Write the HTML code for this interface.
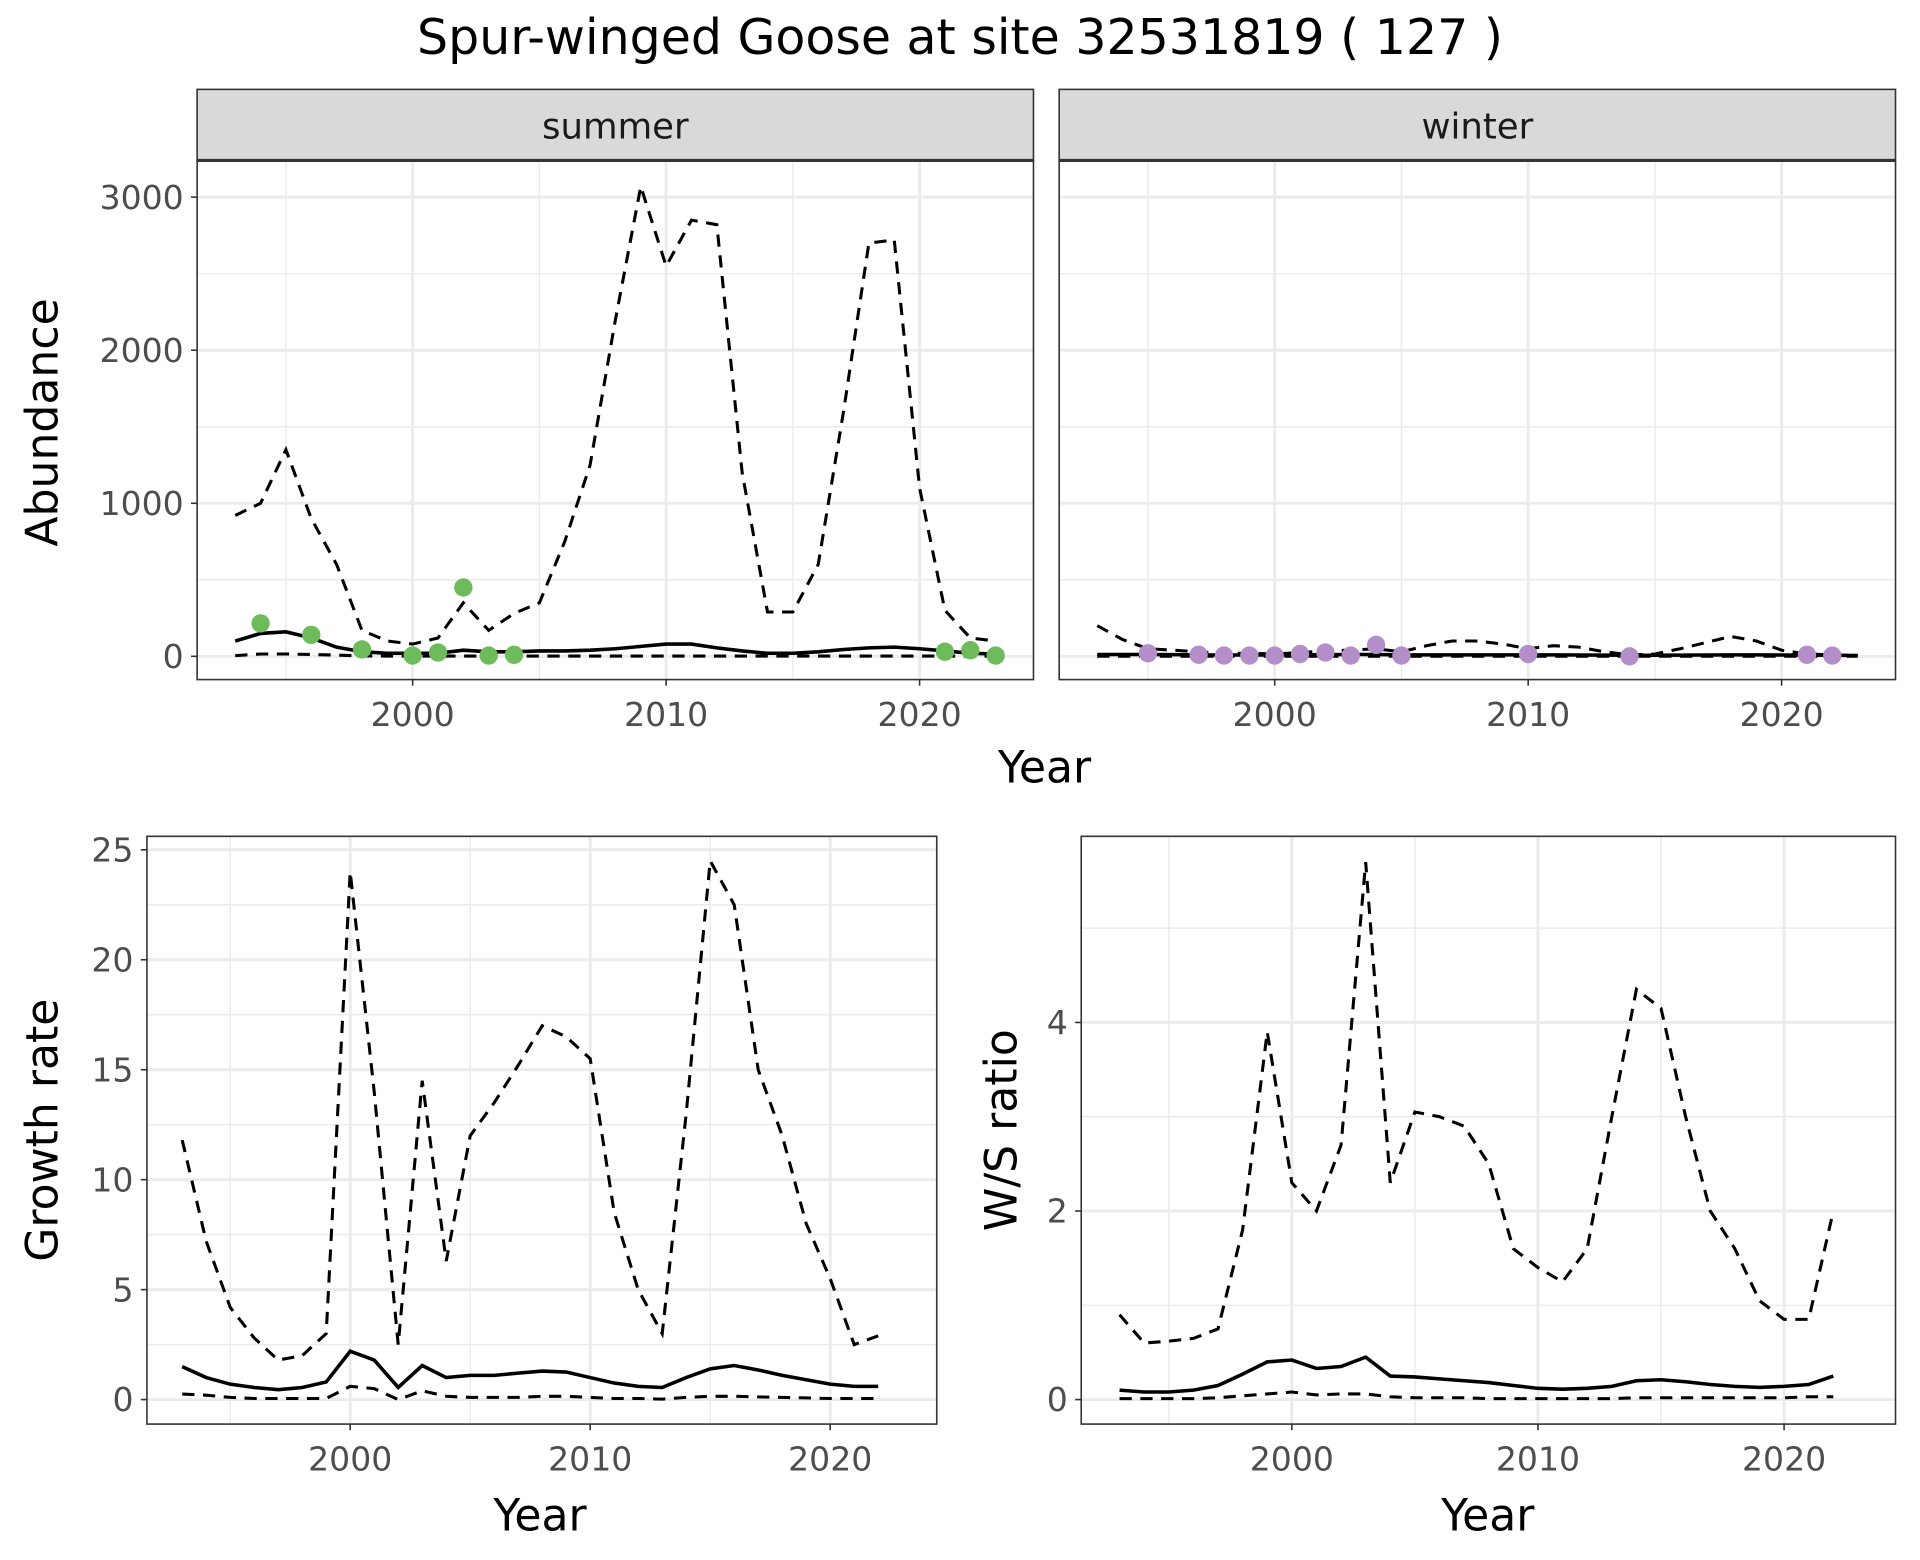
<!DOCTYPE html>
<html><head><meta charset="utf-8"><style>
html,body{margin:0;padding:0;background:#fff}
svg{display:block;font-family:"DejaVu Sans","Liberation Sans",sans-serif}
</style></head><body>
<svg id="chart" width="1920" height="1560" viewBox="0 0 1568 1274" preserveAspectRatio="none" xmlns="http://www.w3.org/2000/svg">
<text x="784" y="44" font-size="40" text-anchor="middle" fill="#000">Spur-winged Goose at site 32531819 ( 127 )</text>
<g id="g"></g>
</svg>
<script>
const yearsA = [1993,1994,1995,1996,1997,1998,1999,2000,2001,2002,2003,2004,2005,2006,2007,2008,2009,2010,2011,2012,2013,2014,2015,2016,2017,2018,2019,2020,2021,2022,2023];
const summerUpper = [920,1000,1350,900,600,170,100,80,120,350,170,280,350,750,1250,2200,3070,2550,2850,2820,1200,290,290,600,1600,2700,2720,1100,300,120,100];
const summerMean = [100,150,160,120,60,30,20,20,20,40,30,30,35,35,40,50,65,80,80,55,35,20,20,30,45,55,60,50,35,20,15];
const summerLower = [5,15,15,12,8,3,2,2,2,2,2,2,2,2,2,2,2,2,2,2,2,2,2,2,2,2,2,2,2,2,2];
const summerPtYears = [1994,1996,1998,2000,2001,2002,2003,2004,2021,2022,2023];
const summerPtVals = [215,140,45,5,25,450,5,10,30,40,5];
const winterUpper = [200,110,50,40,30,20,20,15,25,35,40,50,30,70,100,100,80,50,70,60,30,10,15,50,90,130,100,40,15,10,5];
const winterMean = [12,12,12,11,10,9,9,9,10,11,12,12,10,10,10,10,10,10,10,9,8,7,7,8,9,10,10,9,8,7,6];
const winterLower = [1,1,1,1,1,1,1,1,1,1,1,1,1,1,1,1,1,1,1,1,1,1,1,1,1,1,1,1,1,1,1];
const winterPtYears = [1995,1997,1998,1999,2000,2001,2002,2003,2004,2005,2010,2014,2021,2022];
const winterPtVals = [20,10,5,5,5,15,25,5,75,5,15,0,10,5];
const yearsB = [1993,1994,1995,1996,1997,1998,1999,2000,2001,2002,2003,2004,2005,2006,2007,2008,2009,2010,2011,2012,2013,2014,2015,2016,2017,2018,2019,2020,2021,2022];
const growthUpper = [11.8,7.2,4.2,2.8,1.8,2.0,3.0,24,14,2.5,14.5,6.3,12,13.5,15.2,17,16.5,15.5,8.5,5,3,13,24.5,22.5,15,12,8,5.5,2.5,2.9];
const growthMean = [1.5,1.0,0.7,0.55,0.45,0.55,0.8,2.2,1.8,0.55,1.55,1.0,1.1,1.1,1.2,1.3,1.25,1.0,0.75,0.6,0.55,1.0,1.4,1.55,1.35,1.1,0.9,0.7,0.6,0.6];
const growthLower = [0.25,0.2,0.1,0.05,0.05,0.05,0.05,0.6,0.5,0.0,0.4,0.15,0.1,0.1,0.1,0.15,0.15,0.1,0.05,0.05,0.02,0.1,0.15,0.15,0.12,0.1,0.08,0.05,0.05,0.05];
const ratioUpper = [0.9,0.6,0.62,0.65,0.75,1.8,3.9,2.3,2.0,2.7,5.7,2.3,3.05,3.0,2.9,2.5,1.6,1.4,1.25,1.6,3.0,4.35,4.15,3.0,2.0,1.6,1.05,0.85,0.85,2.0];
const ratioMean = [0.1,0.08,0.08,0.1,0.15,0.27,0.4,0.42,0.33,0.35,0.45,0.25,0.24,0.22,0.2,0.18,0.15,0.12,0.11,0.12,0.14,0.2,0.21,0.19,0.16,0.14,0.13,0.14,0.16,0.25];
const ratioLower = [0.01,0.01,0.01,0.01,0.02,0.04,0.06,0.08,0.05,0.06,0.06,0.03,0.02,0.02,0.02,0.01,0.01,0.01,0.01,0.01,0.01,0.02,0.02,0.02,0.02,0.02,0.02,0.02,0.03,0.03];
const xTicks = [2000,2010,2020];
const xMinor = [1995,2005,2015];
const abTicks = [0,1000,2000,3000];
const abMinor = [500,1500,2500];
const grTicks = [0,5,10,15,20,25];
const grMinor = [2.5,7.5,12.5,17.5,22.5];
const raTicks = [0,2,4];
const raMinor = [1,3,5];

const NS="http://www.w3.org/2000/svg";
const G=document.getElementById('g');
function mk(tag,attrs,parent){const e=document.createElementNS(NS,tag);for(const k in attrs)e.setAttribute(k,attrs[k]);(parent||G).appendChild(e);return e;}
function lin(d0,d1,r0,r1){return v=>r0+(v-d0)*(r1-r0)/(d1-d0);}

function panel(o){
  const x=lin(2000,2020,o.x2000,o.x2020), y=lin(0,o.yRefV,o.y0,o.yRef);
  const grp=mk('g',{});
  
  
  mk('rect',{x:o.l,y:o.t,width:o.r-o.l,height:o.b-o.t,fill:'#fff'},grp);
  o.yMinor.forEach(v=>mk('line',{x1:o.l,x2:o.r,y1:y(v),y2:y(v),stroke:'#ebebeb','stroke-width':1.2},grp));
  xMinor.forEach(v=>mk('line',{x1:x(v),x2:x(v),y1:o.t,y2:o.b,stroke:'#ebebeb','stroke-width':1.2},grp));
  o.yTicks.forEach(v=>mk('line',{x1:o.l,x2:o.r,y1:y(v),y2:y(v),stroke:'#ebebeb','stroke-width':2.4},grp));
  xTicks.forEach(v=>mk('line',{x1:x(v),x2:x(v),y1:o.t,y2:o.b,stroke:'#ebebeb','stroke-width':2.4},grp));
  const path=(xs,vs,dash,w,nm)=>{const p=mk('path',{d:xs.map((yr,i)=>(i?'L':'M')+x(yr).toFixed(1)+','+y(vs[i]).toFixed(1)).join(''),fill:'none',stroke:'#000','stroke-width':w,'stroke-dasharray':dash||'none'},grp);
    
    };
  path(o.years,o.upper,'10,7',2.5,'upper-bound-line');
  path(o.years,o.lower,'10,7',2.5,'lower-bound-line');
  path(o.years,o.mean,null,2.9,'mean-line');
  if(o.pts){o.pts[0].forEach((yr,i)=>{const c=mk('circle',{cx:x(yr),cy:y(o.pts[1][i]),r:7.5,fill:o.ptCol},grp);
    
    });}
  mk('rect',{x:o.l,y:o.t,width:o.r-o.l,height:o.b-o.t,fill:'none',stroke:'#333','stroke-width':1.3},grp);
  if(o.showY){o.yTicks.forEach(v=>{mk('line',{x1:o.l-5,x2:o.l,y1:y(v),y2:y(v),stroke:'#333','stroke-width':1.3},grp);
    const t=mk('text',{x:o.l-11,y:y(v)+9.5,'font-size':27,'text-anchor':'end',fill:'#4d4d4d'},grp);t.textContent=v;
    
    });}
  xTicks.forEach(v=>{mk('line',{x1:x(v),x2:x(v),y1:o.b,y2:o.b+5,stroke:'#333','stroke-width':1.3},grp);
    const t=mk('text',{x:x(v),y:o.b+38,'font-size':27,'text-anchor':'middle',fill:'#4d4d4d'},grp);t.textContent=v;
    
    });
  if(o.strip){mk('rect',{x:o.l,y:73,width:o.r-o.l,height:58,fill:'#d9d9d9',stroke:'#333','stroke-width':1.3},grp);
    mk('line',{x1:o.l,x2:o.r,y1:131,y2:131,stroke:'#333','stroke-width':2.5},grp);
    const t=mk('text',{x:(o.l+o.r)/2,y:113,'font-size':29,'text-anchor':'middle',fill:'#1a1a1a'},grp);t.textContent=o.strip;
    
    }
}
function label(txt,x,y,rot,nm){const t=mk('text',{x:x,y:y,'font-size':36,'text-anchor':'middle',fill:'#000',transform:rot?`rotate(-90 ${x} ${y})`:''});t.textContent=txt;
  
  }

panel({name:'summer-panel',l:161,r:844,t:131,b:555,x2000:337,x2020:751,y0:536,yRef:161,yRefV:3000,yTicks:abTicks,yMinor:abMinor,years:yearsA,upper:summerUpper,mean:summerMean,lower:summerLower,pts:[summerPtYears,summerPtVals],ptCol:'#6dbb5a',showY:true,strip:'summer'});
panel({name:'winter-panel',l:865,r:1548,t:131,b:555,x2000:1041,x2020:1455,y0:536,yRef:161,yRefV:3000,yTicks:abTicks,yMinor:abMinor,years:yearsA,upper:winterUpper,mean:winterMean,lower:winterLower,pts:[winterPtYears,winterPtVals],ptCol:'#b48ec9',showY:false,strip:'winter'});
panel({name:'growth-rate-panel',l:120,r:765,t:683,b:1163,x2000:286,x2020:678,y0:1143,yRef:694,yRefV:25,yTicks:grTicks,yMinor:grMinor,years:yearsB,upper:growthUpper,mean:growthMean,lower:growthLower,showY:true});
panel({name:'ws-ratio-panel',l:883,r:1548,t:683,b:1163,x2000:1055,x2020:1457,y0:1143,yRef:835,yRefV:4,yTicks:raTicks,yMinor:raMinor,years:yearsB,upper:ratioUpper,mean:ratioMean,lower:ratioLower,showY:true});
label('Abundance',47,345,true,'y-axis-title-abundance');
label('Year',853,639,false,'x-axis-title-top');
label('Growth rate',47,923,true,'y-axis-title-growth');
label('W/S ratio',830,923,true,'y-axis-title-ratio');
label('Year',441,1250,false,'x-axis-title-growth');
label('Year',1215,1250,false,'x-axis-title-ratio');
</script>
</body></html>
